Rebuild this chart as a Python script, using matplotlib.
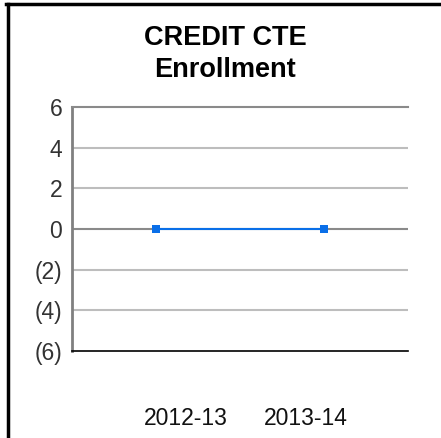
import matplotlib.pyplot as plt
from matplotlib.lines import Line2D

years = ["2012-13", "2013-14"]
enrollment = [0, 0]
y_ticks = [-6, -4, -2, 0, 2, 4, 6]
y_labels = ["(6)", "(4)", "(2)", "0", "2", "4", "6"]

plt.rcParams['font.family'] = ['Liberation Sans', 'DejaVu Sans']

W, H = 441, 438
fig = plt.figure(figsize=(W / 100, H / 100), dpi=100)
ax = fig.add_axes([72 / W, 1 - 351 / H, 336 / W, 244 / H])

x = list(range(len(years)))
ax.plot(x, enrollment, color='#0a6fe8', linewidth=1.5, marker='s',
        markersize=6, markeredgewidth=0, zorder=3)

ax.set_xlim(-0.5, len(years) - 0.5)
ax.set_ylim(-6, 6)
ax.set_yticks(y_ticks)
ax.set_yticklabels(y_labels, fontsize=16.5, color='#333333')
# category labels sit a little inward from the points, as in the original
label_pos = [x[0] + 0.18, x[1] - 0.11]
ax.set_xticks(label_pos)
ax.set_xticklabels(years, fontsize=16.5, color='#111111')
ax.tick_params(axis='both', length=0)
ax.tick_params(axis='x', pad=40)
ax.tick_params(axis='y', pad=7)

for v in y_ticks[1:-1]:
    c = '#8a8a8a' if v == 0 else '#bdbdbd'
    ax.axhline(v, color=c, linewidth=1.5, zorder=1)

ax.spines['right'].set_visible(False)
ax.spines['top'].set_color('#8a8a8a')
ax.spines['top'].set_linewidth(1.5)
ax.spines['left'].set_color('#808080')
ax.spines['left'].set_linewidth(2)
ax.spines['bottom'].set_color('#000000')
ax.spines['bottom'].set_linewidth(1.2)

fig.text(225 / W, 1 - 38 / H, "CREDIT CTE", ha='center', va='center',
         fontsize=19.5, fontweight='bold')
fig.text(225 / W, 1 - 70 / H, "Enrollment", ha='center', va='center',
         fontsize=19.5, fontweight='bold')

# outer frame (left and top only)
fig.add_artist(Line2D([7.5 / W, 7.5 / W], [0, 1 - 4 / H], color='black',
                      linewidth=2.5, transform=fig.transFigure))
fig.add_artist(Line2D([6 / W, 1], [1 - 4 / H, 1 - 4 / H], color='black',
                      linewidth=2.5, transform=fig.transFigure))

fig.savefig('out.png', dpi=100)
